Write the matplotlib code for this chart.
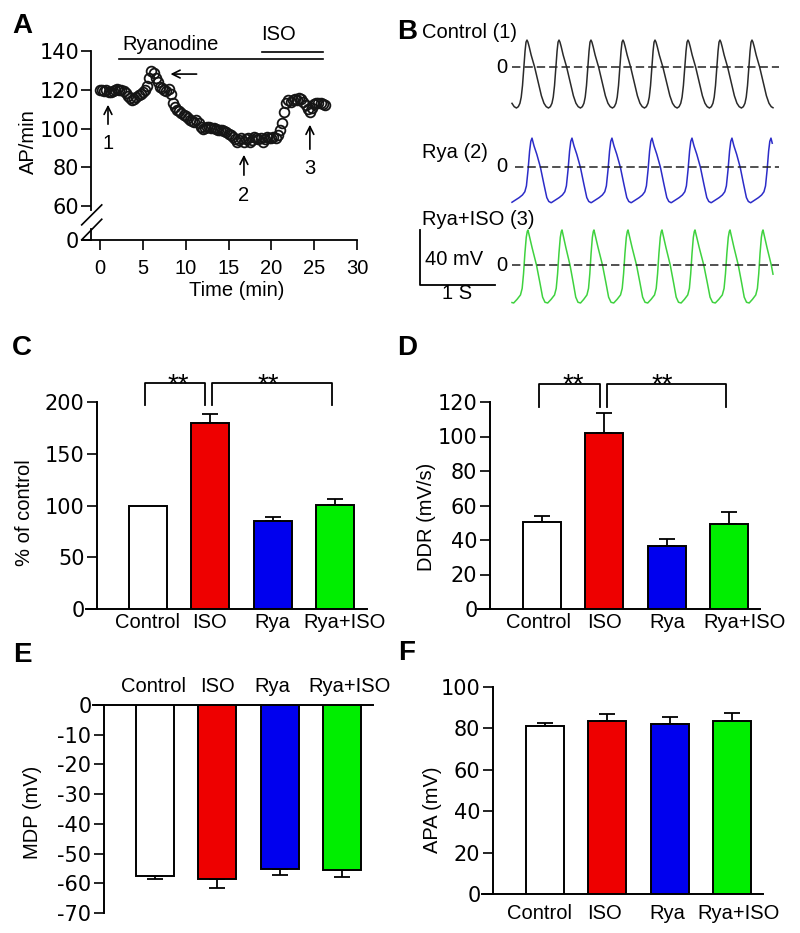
import numpy as np
import matplotlib
matplotlib.use('Agg')
import matplotlib.pyplot as plt

plt.rcParams['font.family'] = ['Liberation Sans', 'DejaVu Sans']
plt.rcParams['axes.unicode_minus'] = False

# ---------------- data ----------------
# Panel A: spontaneous AP rate over time
time_min = [0.00, 0.25, 0.50, 0.75, 1.00, 1.25, 1.50, 1.75, 2.00, 2.25, 2.50, 2.75,
            3.00, 3.25, 3.50, 3.75, 4.00, 4.25, 4.50, 4.75, 5.00, 5.25, 5.50, 5.75,
            6.00, 6.25, 6.50, 6.75, 7.00, 7.25, 7.50, 7.75, 8.00, 8.25, 8.50, 8.75,
            9.00, 9.25, 9.50, 9.75, 10.00, 10.25, 10.50, 10.75, 11.00, 11.25, 11.50, 11.75,
            12.00, 12.25, 12.50, 12.75, 13.00, 13.25, 13.50, 13.75, 14.00, 14.25, 14.50, 14.75,
            15.00, 15.25, 15.50, 15.75, 16.00, 16.25, 16.50, 16.75, 17.00, 17.25, 17.50, 17.75,
            18.00, 18.25, 18.50, 18.75, 19.00, 19.25, 19.50, 19.75, 20.00, 20.25, 20.50, 20.75,
            21.00, 21.25, 21.50, 21.75, 22.00, 22.25, 22.50, 22.75, 23.00, 23.25, 23.50, 23.75,
            24.00, 24.25, 24.50, 24.75, 25.00, 25.25, 25.50, 25.75, 26.00, 26.25]
ap_rate = [120, 120, 119.5, 120, 119, 119, 119.5, 120, 120.5, 120, 120, 119.5,
           118.5, 117, 115.5, 114.5, 115, 116.5, 117.5, 118, 119, 120, 122, 126,
           129.5, 128.5, 126, 124, 121.5, 121, 120, 119.5, 120.5, 118, 113, 111,
           109.5, 109, 108, 107, 106.5, 105.5, 104.5, 104, 103.5, 104.5, 103, 101,
           100, 100.5, 101, 101, 100.5, 100.5, 100, 99.5, 99.5, 99, 98.5, 98,
           97, 96.5, 95.5, 94.5, 93, 94, 95, 93, 94.5, 95, 93, 94,
           95.5, 95, 94.5, 95, 93, 94.5, 95.5, 95, 95, 95.5, 95, 96.5,
           99, 103, 108.5, 113, 114.5, 113.5, 114.5, 115, 114.5, 115.5, 115, 113.5,
           112, 110, 108.5, 110.5, 112.5, 113, 113, 113, 112.5, 112]
a_xticks = [0, 5, 10, 15, 20, 25, 30]
a_yticks = [60, 80, 100, 120, 140]

# Panel B: action potential traces (times in s, voltages in mV)
trace_labels = ['Control (1)', 'Rya (2)', 'Rya+ISO (3)']
ctrl_peaks = [0.200, 0.627, 1.053, 1.480, 1.907, 2.347, 2.773, 3.200]
rya_peaks = [0.267, 0.800, 1.333, 1.867, 2.400, 2.933, 3.453]
ryaiso_peaks = [0.213, 0.667, 1.093, 1.547, 2.000, 2.440, 2.907, 3.347]
ctrl_range_mv = [19.6, -29.8]
rya_range_mv = [21.0, -26.0]
ryaiso_range_mv = [25.5, -27.6]
ctrl_span_s = [0.0, 3.48]
rya_span_s = [0.0, 3.47]
ryaiso_span_s = [0.0, 3.48]
# one beat (peak -> next peak): phase and normalised voltage
ctrl_phase = [0.00, 0.03, 0.07, 0.13, 0.24, 0.35, 0.45, 0.53, 0.60, 0.67, 0.73, 0.78,
              0.82, 0.86, 0.90, 0.94, 0.97]
ctrl_shape = [1.00, 0.97, 0.90, 0.78, 0.60, 0.38, 0.18, 0.07, 0.02, 0.00, 0.02, 0.07,
              0.16, 0.33, 0.58, 0.84, 0.97]
rya_phase = [0.00, 0.05, 0.12, 0.21, 0.30, 0.37, 0.42, 0.48, 0.58, 0.68, 0.76, 0.82,
             0.86, 0.90, 0.94, 0.97]
rya_shape = [1.00, 0.88, 0.75, 0.55, 0.28, 0.08, 0.02, 0.00, 0.04, 0.08, 0.12, 0.17,
             0.26, 0.50, 0.80, 0.95]
ryaiso_phase = [0.00, 0.05, 0.12, 0.25, 0.35, 0.43, 0.50, 0.58, 0.68, 0.78, 0.83, 0.87,
                0.91, 0.95, 0.98]
ryaiso_shape = [1.00, 0.90, 0.76, 0.52, 0.28, 0.08, 0.01, 0.00, 0.05, 0.11, 0.20, 0.40,
                0.68, 0.90, 0.98]

# Panels C-F: group summaries
groups = ['Control', 'ISO', 'Rya', 'Rya+ISO']
pct_mean = [100, 180, 85.3, 100.2]
pct_err = [0, 8, 3.8, 6.5]
ddr_mean = [50.6, 101.8, 36.3, 49.2]
ddr_err = [3.6, 11.6, 4.4, 7.3]
mdp_mean = [-57.5, -58.4, -55.2, -55.6]
mdp_err = [0.9, 3.1, 2.0, 2.4]
apa_mean = [81.0, 83.5, 82.0, 83.8]
apa_err = [1.8, 3.4, 3.5, 3.6]
c_yticks = [0, 50, 100, 150, 200]
d_yticks = [0, 20, 40, 60, 80, 100, 120]
e_yticks = [0, -10, -20, -30, -40, -50, -60, -70]
f_yticks = [0, 20, 40, 60, 80, 100]

bar_colors = ['#ffffff', '#ee0000', '#0000ee', '#00ee00']
trace_colors = ['#2a2a2a', '#2c2cc8', '#3fd23f']

# ---------------- figure ----------------
W, H = 800, 933
fig = plt.figure(figsize=(W / 100, H / 100), dpi=100)
FS = 14.5
YFS = 15
LW = 1.4


def ax_px(l, t, r, b):
    return fig.add_axes([l / W, 1 - b / H, (r - l) / W, (b - t) / H])


def ftext(x, y, s, **kw):
    fig.text(x / W, 1 - y / H, s, **kw)


def style_ticks(ax):
    ax.tick_params(axis='y', direction='out', length=7, width=1.2, pad=2, labelsize=YFS)
    for lbl in ax.get_yticklabels():
        lbl.set_fontfamily(['DejaVu Sans'])


# ---- Panel A ----
axA = ax_px(81.7, 51, 357, 240)
axA.plot(time_min, ap_rate, 'o', ms=7, mfc='none', mec='#151515', mew=1.3, clip_on=False)
axA.set_xlim(-2.14, 30)
axA.set_ylim(42.5, 140)
for s in ['top', 'right']:
    axA.spines[s].set_visible(False)
axA.spines['left'].set_position(('data', -1.0))
axA.spines['left'].set_bounds(58, 140)
for s in ['left', 'bottom']:
    axA.spines[s].set_linewidth(1.3)
axA.set_xticks(a_xticks)
axA.set_yticks([42.5] + a_yticks)
axA.set_yticklabels(['0'] + [str(v) for v in a_yticks])
axA.tick_params(axis='x', direction='out', length=7, width=1.2, pad=7, labelsize=FS)
style_ticks(axA)
# axis break
axA.plot([-1.0, -1.0], [42.5, 48.2], color='k', lw=1.3, clip_on=False)
axA.plot([-2.14, 0.2], [50.3, 60.6], color='k', lw=1.2, clip_on=False)
axA.plot([-2.14, 0.2], [42.6, 53.2], color='k', lw=1.2, clip_on=False)
# treatment bars
axA.plot([2.2, 26.0], [135.9, 135.9], color='k', lw=1.2, clip_on=False)
axA.plot([18.9, 26.0], [139.5, 139.5], color='k', lw=1.2, clip_on=False)
axA.text(8.2, 143.3, 'Ryanodine', ha='center', va='center', fontsize=FS, clip_on=False)
axA.text(20.8, 148.3, 'ISO', ha='center', va='center', fontsize=FS, clip_on=False)
arrow_kw = dict(arrowstyle='->', lw=1.2, color='k', mutation_scale=14)
axA.annotate('', xy=(7.9, 128.1), xytext=(11.6, 128.1), arrowprops=arrow_kw)
for x, tip, tail, lab, ly in [(0.93, 113.7, 100.8, '1', 92.5),
                              (16.8, 87.9, 74.5, '2', 65.7),
                              (24.5, 103.4, 87.9, '3', 79.6)]:
    axA.annotate('', xy=(x, tip), xytext=(x, tail), arrowprops=arrow_kw)
    axA.text(x, ly, lab, ha='center', va='center', fontsize=FS)
ftext(28, 142, 'AP/min', rotation=90, ha='center', va='center', fontsize=FS)
ftext(237, 291, 'Time (min)', ha='center', va='center', fontsize=FS)

# ---- Panel B ----
axB = ax_px(400, 0, 800, 310)
axB.set_xlim(-1.493, 3.84)
axB.set_ylim(0, 225.45)
axB.axis('off')


def build_trace(peaks, phase, shape, vrange, span):
    pk = list(peaks)
    first = pk[0] - (pk[1] - pk[0])
    last = pk[-1] + (pk[-1] - pk[-2])
    pk = [first] + pk + [last]
    ts, vs = [], []
    vpk, vtr = vrange
    for a, b in zip(pk[:-1], pk[1:]):
        for p, s in zip(phase, shape):
            ts.append(a + p * (b - a))
            vs.append(vtr + s * (vpk - vtr))
    ts = np.array(ts)
    vs = np.array(vs)
    t0, t1 = span
    v0 = np.interp(t0, ts, vs)
    v1 = np.interp(t1, ts, vs)
    m = (ts > t0) & (ts < t1)
    return np.r_[t0, ts[m], t1], np.r_[v0, vs[m], v1]


baselines = [176.7, 104.0, 32.7]
traces = [(ctrl_peaks, ctrl_phase, ctrl_shape, ctrl_range_mv, ctrl_span_s),
          (rya_peaks, rya_phase, rya_shape, rya_range_mv, rya_span_s),
          (ryaiso_peaks, ryaiso_phase, ryaiso_shape, ryaiso_range_mv, ryaiso_span_s)]
label_y = [201.5, 114.2, 65.5]
dash_start = [0.0, 0.04, 0.0]
for (pk, ph, sh, vr, sp), base, col, lab, ly, ds in zip(traces, baselines, trace_colors,
                                                         trace_labels, label_y, dash_start):
    t, v = build_trace(pk, ph, sh, vr, sp)
    axB.plot(t, v + base, color=col, lw=1.1, solid_joinstyle='round')
    axB.plot([ds, 3.56], [base, base], color='#222222', lw=1.1, dashes=(5.5, 2.6))
    axB.text(-0.06, base, '0', ha='right', va='center', fontsize=FS)
    axB.text(-1.2, ly, lab, ha='left', va='center', fontsize=FS)
# scale bars
axB.plot([-1.227, -1.227, -0.227], [58.2, 18.2, 18.2], color='k', lw=1.3)
axB.text(-1.16, 36.4, '40 mV', ha='left', va='center', fontsize=FS)
axB.text(-0.733, 12.0, '1 S', ha='center', va='center', fontsize=FS)


# ---- bar panels ----
def bar_panel(ax, means, errs, ylim, yticks, spine_x, xlim, negative=False):
    x = np.arange(len(means))
    ax.bar(x, means, width=0.61, color=bar_colors, edgecolor='k', linewidth=1.4, zorder=3)
    idx = [i for i in range(len(means)) if errs[i] > 0]
    ex = [x[i] for i in idx]
    ey = [means[i] for i in idx]
    ee = [errs[i] for i in idx]
    zeros = [0] * len(idx)
    yerr = [ee, zeros] if negative else [zeros, ee]
    ax.errorbar(ex, ey, yerr=yerr, fmt='none', ecolor='k', elinewidth=1.3,
                capsize=5.5, capthick=1.3, zorder=2)
    ax.set_xlim(*xlim)
    ax.set_ylim(*ylim)
    ax.set_yticks(yticks)
    ax.set_xticks([])
    ax.spines['right'].set_visible(False)
    if negative:
        ax.spines['bottom'].set_visible(False)
    else:
        ax.spines['top'].set_visible(False)
    ax.spines['left'].set_position(('data', spine_x))
    for s in ['left', 'bottom', 'top']:
        ax.spines[s].set_linewidth(LW)
    style_ticks(ax)


def cat_labels(ax, xs, y):
    for g, xx in zip(groups, xs):
        ax.text(xx, y, g, ha='center', va='center', fontsize=FS, clip_on=False)


def bracket(ax, x0, x1, ytop, ybot, star_x, star_y):
    ax.plot([x0, x0, x1, x1], [ybot, ytop, ytop, ybot], color='k', lw=1.3, clip_on=False)
    ax.text(star_x, star_y, '**', ha='center', va='baseline', fontsize=20, clip_on=False)


# Panel C
axC = ax_px(86, 402, 367, 609)
bar_panel(axC, pct_mean, pct_err, (0, 200), c_yticks, -0.82, (-0.995, 3.515))
cat_labels(axC, [0.0, 0.98, 2.0, 3.16], -13.5)
bracket(axC, -0.05, 0.915, 218.4, 197.1, 0.48, 209.7)
bracket(axC, 1.03, 2.95, 218.4, 197.1, 1.93, 209.7)
ftext(25, 513, '% of control', rotation=90, ha='center', va='center', fontsize=FS)

# Panel D
axD = ax_px(478, 402, 760, 609)
bar_panel(axD, ddr_mean, ddr_err, (0, 120), d_yticks, -0.835, (-1.027, 3.5))
cat_labels(axD, [-0.05, 1.0, 2.02, 3.26], -8.1)
bracket(axD, -0.05, 0.93, 130.4, 117.1, 0.5, 125.8)
bracket(axD, 1.04, 2.95, 130.4, 117.1, 1.93, 125.8)
ftext(427, 517, 'DDR (mV/s)', rotation=90, ha='center', va='center', fontsize=FS)

# Panel E
axE = ax_px(93, 705, 373, 913)
bar_panel(axE, mdp_mean, mdp_err, (-70, 0), e_yticks, -0.82, (-0.995, 3.5), negative=True)
cat_labels(axE, [-0.03, 1.01, 1.89, 3.13], 6.06)
ftext(33, 812, 'MDP (mV)', rotation=90, ha='center', va='center', fontsize=FS)

# Panel F
axF = ax_px(482, 687, 763, 894)
bar_panel(axF, apa_mean, apa_err, (0, 100), f_yticks, -0.835, (-1.01, 3.5))
cat_labels(axF, [-0.08, 0.96, 1.97, 3.1], -9.2)
ftext(432, 810, 'APA (mV)', rotation=90, ha='center', va='center', fontsize=FS)

# panel letters
for lab, x, y in [('A', 22, 26), ('B', 407, 32), ('C', 22, 348),
                  ('D', 407, 348), ('E', 22, 655), ('F', 407, 653)]:
    ftext(x, y, lab, ha='center', va='center', fontsize=20, fontweight='bold')

fig.savefig('out.png', dpi=100)
